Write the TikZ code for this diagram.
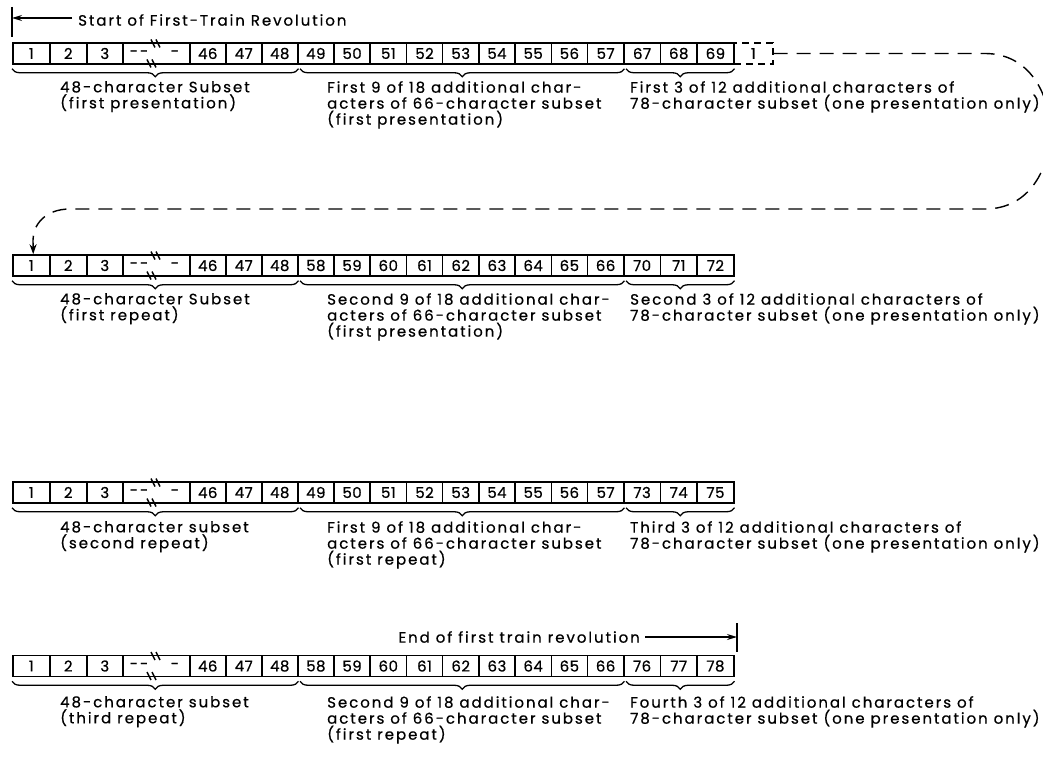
\documentclass[tikz,border=0pt]{standalone}
\usepackage{fontspec}
\setmainfont{Poppins}[LetterSpace=13, FakeBold=0.6]
\newfontfamily\cellfont{Poppins}[LetterSpace=3, FakeBold=0.6]
\usetikzlibrary{decorations.pathreplacing,arrows.meta}
\newcommand\charrow[5]{% #1 id, #2 y centre, #3 first of nine, #4 first of three
  \node[cell, minimum width=37pt] (#1a1) at (12,#2) {1};
  \node[cell, minimum width=37pt] (#1a2) at (49,#2) {2};
  \node[cell, minimum width=36pt] (#1a3) at (86,#2) {3};
  \node[cell, minimum width=67pt] (#1b) at (122,#2) {};
  \node[txt] (#1d1) at (139,#2) {-{}-};
  \node[txt] (#1d2) at (175,#2) {-};
  \draw[brk] (151,#2-14) -- (155,#2-6) (156,#2-14) -- (160,#2-6);
  \draw[brk] (147,#2+6) -- (151,#2+14) (152,#2+6) -- (156,#2+14);
  \node[cell, minimum width=36pt] (#1a4) at (189,#2) {46};
  \node[cell, minimum width=36pt] (#1a5) at (225,#2) {47};
  \node[cell, minimum width=36pt] (#1a6) at (261,#2) {48};
  \foreach \i in {0,...,8}{%
    \pgfmathtruncatemacro\n{#3+\i}%
    \node[cell, minimum width=36.22pt] (#1n\i) at ({297+36.22*\i},#2) {\n};}
  \foreach \i in {0,1,2}{%
    \pgfmathtruncatemacro\n{#4+\i}%
    \node[cell, minimum width=36.67pt] (#1t\i) at ({623+36.67*\i},#2) {\n};}
  \draw[brc] (#1a1.south west) ++(0,4) -- ([yshift=-4pt]#1a6.south east);
  \draw[brc] ([xshift=3pt,yshift=-4pt]#1n0.south west) -- ([yshift=-4pt]#1n8.south east);
  \draw[brc] ([xshift=3pt,yshift=-4pt]#1t0.south west) -- ([yshift=-4pt]#1t2.south east);
}
\begin{document}
\begin{tikzpicture}[x=1pt,y=-1pt,
  cell/.style={draw, line width=1.5pt, minimum height=21pt, inner sep=0pt, anchor=west,
    font=\cellfont\fontsize{15}{16}\selectfont},
  txt/.style={inner sep=0pt, font=\fontsize{15}{16}\selectfont},
  lbl/.style={anchor=north west, align=left, inner sep=0pt, font=\fontsize{15}{16}\selectfont},
  brc/.style={decorate, decoration={brace, mirror, amplitude=8pt}, line width=1.3pt},
  brk/.style={line width=1.5pt},
  dashline/.style={line width=1.4pt, dash pattern=on 14pt off 9pt},
  arr/.style={line width=1.2pt, -{Stealth[length=10pt,width=6pt]}},
]
\useasboundingbox (0,0) rectangle (1043,767);

% start marker
\node[txt, anchor=west] (start) at (78,20) {Start of First-Train Revolution};
\coordinate (st) at (12,18);
\draw[line width=1.2pt] (12,7) -- (12,37);
\draw[arr] ([xshift=-6pt]start.west |- st) -- (st);

% rows
\charrow{r1}{53.5}{49}{67}{}
\charrow{r2}{265.5}{58}{70}{}
\charrow{r3}{492.5}{49}{73}{}
\charrow{r4}{666}{58}{76}{}

% dashed extra cell
\node[cell, dashed, dash pattern=on 7pt off 5pt, minimum width=39pt] (r1x) at (733,53.5) {1};

% labels row 1
\node[lbl] (l11) at (60,81) {48-character Subset\\(first presentation)};
\node[lbl] (l12) at (327,81) {First 9 of 18 additional char-\\acters of 66-character subset\\(first presentation)};
\node[lbl] (l13) at (630,81) {First 3 of 12 additional characters of\\78-character subset (one presentation only)};
% labels row 2
\node[lbl] (l21) at (60,293) {48-character Subset\\(first repeat)};
\node[lbl] (l22) at (327,293) {Second 9 of 18 additional char-\\acters of 66-character subset\\(first presentation)};
\node[lbl] (l23) at (630,293) {Second 3 of 12 additional characters of\\78-character subset (one presentation only)};
% labels row 3
\node[lbl] (l31) at (60,521) {48-character subset\\(second repeat)};
\node[lbl] (l32) at (327,521) {First 9 of 18 additional char-\\acters of 66-character subset\\(first repeat)};
\node[lbl] (l33) at (630,521) {Third 3 of 12 additional characters of\\78-character subset (one presentation only)};
% labels row 4
\node[lbl] (l41) at (60,696) {48-character subset\\(third repeat)};
\node[lbl] (l42) at (327,696) {Second 9 of 18 additional char-\\acters of 66-character subset\\(first repeat)};
\node[lbl] (l43) at (630,696) {Fourth 3 of 12 additional characters of\\78-character subset (one presentation only)};

% dashed return path
\draw[dashline, -{Stealth[length=10pt,width=7pt]}] (r1x.east) -- (985,53.5)
  .. controls (1030,53.5) and (1050,95) .. (1050,131)
  .. controls (1050,168) and (1030,209) .. (985,209)
  -- (70,209) .. controls (45,209) and (33,225) .. (33,240) -- ([xshift=2pt]r2a1.north);

% end marker
\node[txt, anchor=east] (endt) at (640,637) {End of first train revolution};
\coordinate (en) at (737,637);
\draw[line width=1.2pt] (737,623) -- (737,652);
\draw[arr] ([xshift=5pt]endt.east) -- (en);
\end{tikzpicture}
\end{document}
